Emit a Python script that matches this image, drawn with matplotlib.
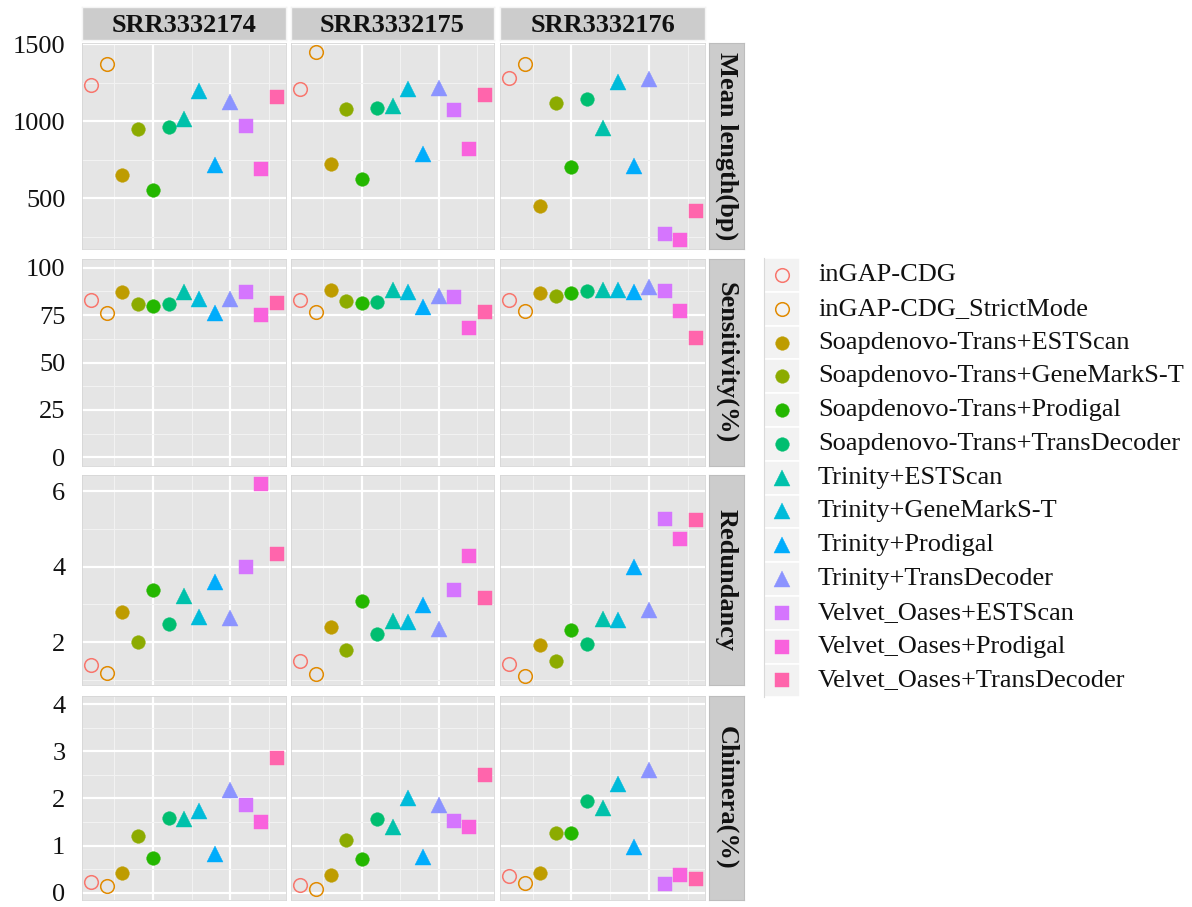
import matplotlib
matplotlib.use("Agg")
import matplotlib.pyplot as plt
from matplotlib.patches import Rectangle

plt.rcParams['font.family'] = ['Liberation Serif', 'DejaVu Serif']

# ---------------- data ----------------
methods = [
    "inGAP-CDG", "inGAP-CDG_StrictMode",
    "Soapdenovo-Trans+ESTScan", "Soapdenovo-Trans+GeneMarkS-T",
    "Soapdenovo-Trans+Prodigal", "Soapdenovo-Trans+TransDecoder",
    "Trinity+ESTScan", "Trinity+GeneMarkS-T", "Trinity+Prodigal",
    "Trinity+TransDecoder", "Velvet_Oases+ESTScan", "Velvet_Oases+Prodigal",
    "Velvet_Oases+TransDecoder",
]
samples = ["SRR3332174", "SRR3332175", "SRR3332176"]
metrics = ["Mean length(bp)", "Sensitivity(%)", "Redundancy", "Chimera(%)"]

# one list per sample, in the order of `methods`
mean_length = [
    [1232, 1372, 651, 952, 554, 961, 1015, 1193, 716, 1123, 968, 690, 1158],
    [1208, 1446, 721, 1080, 625, 1087, 1095, 1210, 788, 1214, 1069, 822, 1167],
    [1277, 1372, 452, 1119, 703, 1145, 957, 1253, 706, 1271, 268, 231, 415],
]
sensitivity = [
    [82.7, 76.0, 87.2, 80.9, 79.9, 80.9, 86.9, 83.7, 76.0, 83.4, 87.0, 75.0, 81.3],
    [83.0, 76.4, 88.0, 82.2, 81.3, 81.6, 88.3, 86.9, 79.0, 85.1, 84.3, 68.4, 76.4],
    [83.0, 77.3, 86.5, 85.1, 86.5, 87.8, 88.3, 88.3, 87.2, 90.0, 87.4, 77.1, 63.0],
]
redundancy = [
    [1.40, 1.18, 2.79, 2.01, 3.37, 2.47, 3.22, 2.67, 3.58, 2.65, 4.00, 6.18, 4.34],
    [1.50, 1.15, 2.41, 1.80, 3.10, 2.21, 2.57, 2.54, 2.98, 2.35, 3.37, 4.27, 3.16],
    [1.43, 1.11, 1.93, 1.50, 2.32, 1.96, 2.60, 2.58, 4.00, 2.85, 5.26, 4.72, 5.23],
]
chimera = [
    [0.23, 0.155, 0.42, 1.20, 0.75, 1.58, 1.56, 1.73, 0.82, 2.19, 1.86, 1.51, 2.85],
    [0.17, 0.09, 0.37, 1.13, 0.72, 1.56, 1.39, 2.02, 0.77, 1.87, 1.52, 1.39, 2.49],
    [0.35, 0.20, 0.42, 1.26, 1.26, 1.94, 1.80, 2.30, 0.97, 2.60, 0.19, 0.37, 0.30],
]
metric_values = [mean_length, sensitivity, redundancy, chimera]

# axis settings per metric row
y_limits = [(170, 1507), (-4.5, 104.5), (0.86, 6.43), (-0.15, 4.17)]
y_major = [[500, 1000, 1500], [0, 25, 50, 75, 100], [2, 4, 6], [0, 1, 2, 3, 4]]
y_minor = [[250, 750, 1250], [12.5, 37.5, 62.5, 87.5], [1, 3, 5], [0.5, 1.5, 2.5, 3.5]]

# ggplot hue palette with 13 levels
colors = ["#F8766D", "#E18A00", "#BE9C00", "#8CAB00", "#24B700", "#00BE70",
          "#00C1AB", "#00BBDA", "#00ACFC", "#8B93FF", "#D575FE", "#F962DD",
          "#FF65AC"]
shapes = ["open", "open", "o", "o", "o", "o", "^", "^", "^", "^", "s", "s", "s"]

# ---------------- layout (pixels) ----------------
W, H = 1192, 907
fig = plt.figure(figsize=(W / 100, H / 100), dpi=100)

col_px = [(82, 286), (291, 494), (500, 705)]
row_px = [(43, 249), (259, 466), (475, 685), (696, 900)]
top_strip_y = (7, 40)
right_strip_x = (709, 744)

PANEL_BG = "#E5E5E5"
STRIP_BG = "#CCCCCC"
TEXT_C = "#111111"
FS = 19


def rect(x0, y0, x1, y1):
    return [x0 / W, 1 - y1 / H, (x1 - x0) / W, (y1 - y0) / H]


def draw_marker(ax, x, y, color, shape, clip=True):
    if shape == "open":
        kw = dict(marker="o", markersize=9.8, markerfacecolor="none",
                  markeredgewidth=1.1)
    elif shape == "o":
        kw = dict(marker="o", markersize=9.8, markerfacecolor=color,
                  markeredgewidth=0.3)
    elif shape == "^":
        kw = dict(marker="^", markersize=12, markerfacecolor=color,
                  markeredgewidth=0.3)
    else:
        kw = dict(marker="s", markersize=9.6, markerfacecolor=color,
                  markeredgewidth=0.3)
    ax.plot([x], [y], linestyle="none", markeredgecolor=color,
            clip_on=clip, **kw)


xs = list(range(1, len(methods) + 1))

for r, (y0, y1) in enumerate(row_px):
    for c, (x0, x1) in enumerate(col_px):
        ax = fig.add_axes(rect(x0, y0, x1, y1))
        ax.set_facecolor(PANEL_BG)
        ax.set_xlim(0.4, 13.6)
        ax.set_ylim(*y_limits[r])
        ax.set_xticks([5, 10])
        ax.set_xticks([2.5, 7.5, 12.5], minor=True)
        ax.set_yticks(y_major[r])
        ax.set_yticks(y_minor[r], minor=True)
        ax.grid(True, which="major", color="white", linewidth=1.6)
        ax.grid(True, which="minor", color="#F2F2F2", linewidth=0.8)
        ax.set_axisbelow(True)
        for s in ax.spines.values():
            s.set_color("#D6D6D6")
            s.set_linewidth(0.6)
        ax.tick_params(which="both", length=0, labelbottom=False)
        if c == 0:
            ax.tick_params(axis="y", labelsize=FS, pad=12, labelcolor=TEXT_C)
        else:
            ax.tick_params(axis="y", labelleft=False)
        vals = metric_values[r][c]
        for i, x in enumerate(xs):
            draw_marker(ax, x, vals[i], colors[i], shapes[i])

# top strips (sample names)
for c, (x0, x1) in enumerate(col_px):
    sax = fig.add_axes(rect(x0, top_strip_y[0], x1, top_strip_y[1]))
    sax.set_facecolor(STRIP_BG)
    sax.set_xticks([])
    sax.set_yticks([])
    for s in sax.spines.values():
        s.set_color("#F4F4F4")
        s.set_linewidth(1.0)
    sax.text(0.5, 0.45, samples[c], transform=sax.transAxes, ha="center",
             va="center", fontsize=FS, fontweight="bold", color=TEXT_C)

# right strips (metric names)
for r, (y0, y1) in enumerate(row_px):
    sax = fig.add_axes(rect(right_strip_x[0], y0, right_strip_x[1], y1))
    sax.set_facecolor(STRIP_BG)
    sax.set_xticks([])
    sax.set_yticks([])
    for s in sax.spines.values():
        s.set_color("#BDBDBD")
        s.set_linewidth(0.8)
    sax.text(0.5, 0.5, metrics[r], transform=sax.transAxes, ha="center",
             va="center", rotation=-90, fontsize=FS, fontweight="bold",
             color=TEXT_C)

# legend
lax = fig.add_axes([0, 0, 1, 1])
lax.set_xlim(0, W)
lax.set_ylim(H, 0)
lax.axis("off")
key_x0, key_x1 = 764, 800
key_top, key_h = 258, 33.8
for i, m in enumerate(methods):
    ky0 = key_top + i * key_h
    lax.add_patch(Rectangle((key_x0, ky0), key_x1 - key_x0, key_h,
                            facecolor="#F2F2F2", edgecolor="white",
                            linewidth=1.2))
    cy = ky0 + key_h / 2
    draw_marker(lax, (key_x0 + key_x1) / 2, cy, colors[i], shapes[i], clip=False)
    lax.text(818, cy, m, ha="left", va="center", fontsize=FS, color=TEXT_C)
lax.plot([key_x0, key_x0], [key_top, key_top + 13 * key_h], color="#D9D9D9",
         linewidth=0.8)

fig.savefig("out.png", dpi=100, facecolor="white")
